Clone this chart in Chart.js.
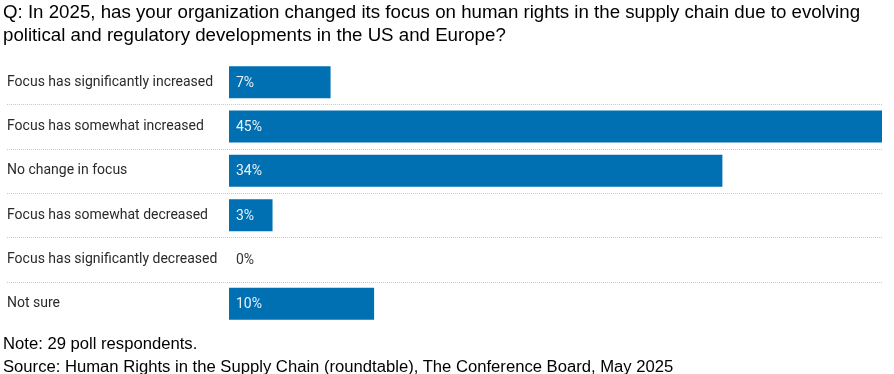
<!DOCTYPE html>
<html>
<head>
<meta charset="utf-8">
<script src="https://cdn.jsdelivr.net/npm/chart.js@4/dist/chart.umd.min.js"></script>
<style>
  body { margin: 0; background: #fff; }
  #wrap { position: relative; width: 894px; height: 374px; overflow: hidden; }
  #wrap canvas { position: absolute; left: 0; top: 0; }
  .txt { position: absolute; left: 3px; font-family: "Liberation Sans", Arial, sans-serif; color: #000; white-space: nowrap; }
  #title { top: 0px; font-size: 18.7px; line-height: 23px; }
  #note { top: 331.5px; font-size: 16.65px; line-height: 23px; }
</style>
</head>
<body>
<div id="wrap">
  <canvas id="chart" width="894" height="374"></canvas>
  <div id="title" class="txt">Q: In 2025, has your organization changed its focus on human rights in the supply chain due to evolving<br>political and regulatory developments in the US and Europe?</div>
  <div id="note" class="txt">Note: 29 poll respondents.<br>Source: Human Rights in the Supply Chain (roundtable), The Conference Board, May 2025</div>
</div>
<script>
// chart data
const categories = [
  "Focus has significantly increased",
  "Focus has somewhat increased",
  "No change in focus",
  "Focus has somewhat decreased",
  "Focus has significantly decreased",
  "Not sure"
];
const shares = [7, 45, 34, 3, 0, 10];
const barColor = "#0070b2";

// dotted lines between rows
const rowLines = {
  id: "rowLines",
  beforeDatasetsDraw(chart) {
    const ctx = chart.ctx;
    const y = chart.scales.y;
    ctx.save();
    ctx.strokeStyle = "#c8c8c8";
    ctx.lineWidth = 1;
    ctx.setLineDash([1, 1]);
    for (let i = 0; i < categories.length - 1; i++) {
      const py = Math.round((y.getPixelForValue(i) + y.getPixelForValue(i + 1)) / 2) + 0.5;
      ctx.beginPath();
      ctx.moveTo(7, py);
      ctx.lineTo(chart.chartArea.right, py);
      ctx.stroke();
    }
    ctx.restore();
  }
};

// percent labels at start of each bar
const valueLabels = {
  id: "valueLabels",
  afterDatasetsDraw(chart) {
    const ctx = chart.ctx;
    const meta = chart.getDatasetMeta(0);
    ctx.save();
    ctx.font = "14px Roboto";
    ctx.textBaseline = "middle";
    meta.data.forEach((bar, i) => {
      ctx.fillStyle = shares[i] > 0 ? "rgba(255,255,255,0.9)" : "#333333";
      ctx.fillText(shares[i] + "%", bar.base + 7, bar.y + 1);
    });
    ctx.restore();
  }
};

new Chart(document.getElementById("chart"), {
  type: "bar",
  data: {
    labels: categories,
    datasets: [{
      data: shares,
      backgroundColor: barColor,
      borderWidth: 0,
      categoryPercentage: 1,
      barPercentage: 0.72
    }]
  },
  options: {
    indexAxis: "y",
    responsive: false,
    animation: false,
    layout: { padding: { top: 60, bottom: 48, left: 7, right: 12 } },
    plugins: { legend: { display: false }, tooltip: { enabled: false } },
    scales: {
      x: { display: false, min: 0, max: 45 },
      y: {
        afterFit(axis) { axis.width = 222; },
        grid: { display: false },
        border: { display: false },
        ticks: {
          crossAlign: "far",
          color: "#2a2a2a",
          font: { family: "Roboto", size: 14 },
          padding: 0
        }
      }
    }
  },
  plugins: [rowLines, valueLabels]
});
</script>
</body>
</html>
